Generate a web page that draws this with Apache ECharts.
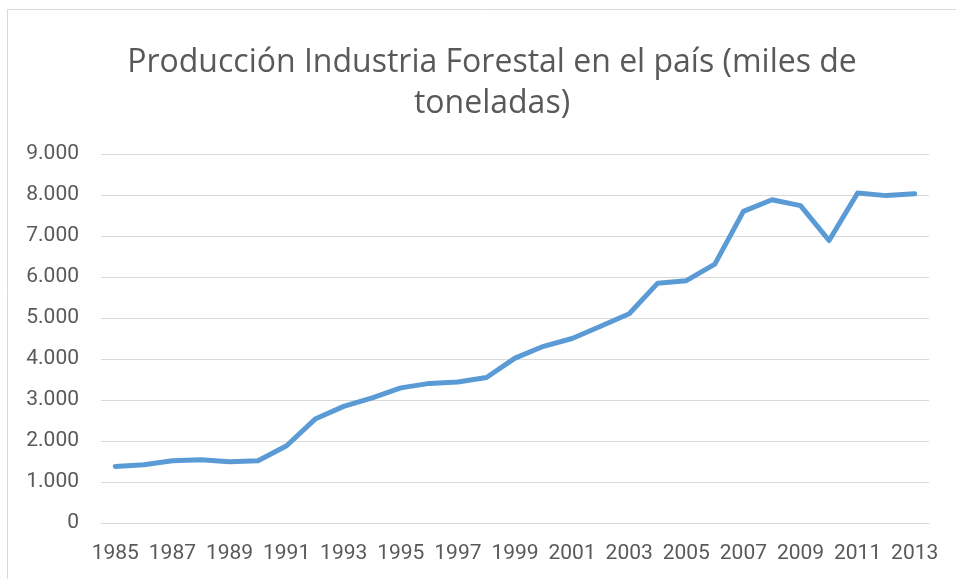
<!DOCTYPE html>
<html>
<head>
<meta charset="utf-8">
<script src="https://cdn.jsdelivr.net/npm/echarts@6/dist/echarts.min.js"></script>
<style>
  html, body { margin: 0; padding: 0; background: #fff; }
  #chart { width: 956px; height: 579px; }
</style>
</head>
<body>
<div id="chart"></div>
<script>
// años
const years = ['1985','1986','1987','1988','1989','1990','1991','1992','1993','1994',
  '1995','1996','1997','1998','1999','2000','2001','2002','2003','2004',
  '2005','2006','2007','2008','2009','2010','2011','2012','2013'];
// produccion (miles de toneladas)
const produccion = [1380, 1420, 1520, 1545, 1495, 1520, 1885, 2535, 2845, 3050,
  3295, 3405, 3440, 3550, 4020, 4310, 4500, 4800, 5105, 5850,
  5910, 6315, 7600, 7885, 7740, 6890, 8050, 7985, 8030];
const titleText = 'Producción Industria Forestal en el país (miles de\ntoneladas)';

const fmtMiles = v => String(v).replace(/\B(?=(\d{3})+(?!\d))/g, '.');

const myChart = echarts.init(document.getElementById('chart'));
myChart.setOption({
    animation: false,
    title: {
        text: titleText,
        left: 487,
        top: 37,
        textAlign: 'center',
        textStyle: {
            fontFamily: 'Open Sans',
            fontWeight: 'normal',
            fontSize: 32,
            lineHeight: 41,
            color: '#595959'
        }
    },
    graphic: [{
        type: 'rect',
        shape: {x: 7.5, y: 9.5, width: 980, height: 600},
        style: {fill: 'none', stroke: '#d9d9d9', lineWidth: 1},
        silent: true
    }],
    grid: {left: 101, right: 27, top: 154, bottom: 56},
    xAxis: {
        type: 'category',
        data: years,
        boundaryGap: true,
        axisLine: {show: true, lineStyle: {color: '#d9d9d9'}},
        axisTick: {show: false},
        axisLabel: {
            interval: 1,
            margin: 20,
            fontFamily: 'Roboto',
            fontSize: 21,
            color: '#595959'
        }
    },
    yAxis: {
        type: 'value',
        min: 0,
        max: 9000,
        interval: 1000,
        axisLine: {show: false},
        axisTick: {show: false},
        splitLine: {lineStyle: {color: '#d9d9d9', width: 1}},
        axisLabel: {
            margin: 22,
            fontFamily: 'Roboto',
            fontSize: 21,
            color: '#595959',
            formatter: fmtMiles
        }
    },
    series: [{
        name: 'Producción',
        type: 'line',
        data: produccion,
        symbol: 'none',
        lineStyle: {color: '#5b9bd5', width: 5, cap: 'round', join: 'round'}
    }]
});
</script>
</body>
</html>
